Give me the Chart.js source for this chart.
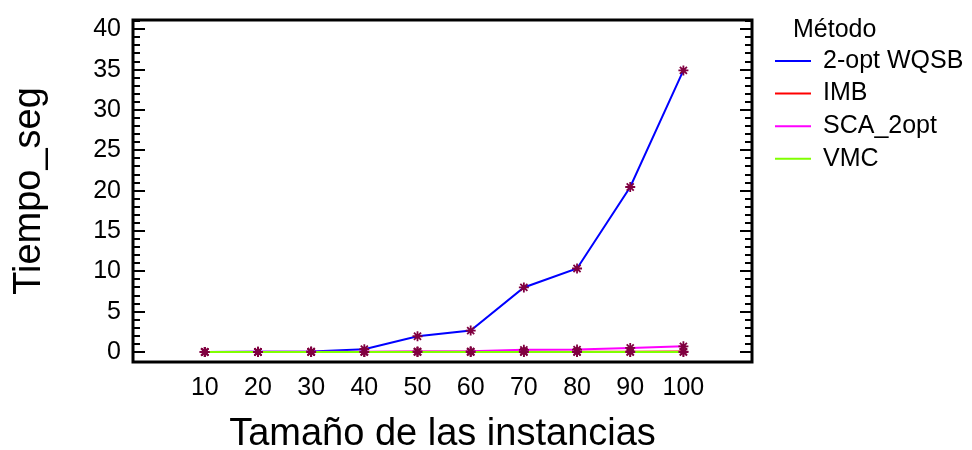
<!DOCTYPE html>
<html>
<head>
<meta charset="utf-8">
<script src="https://cdn.jsdelivr.net/npm/chart.js@4/dist/chart.umd.min.js"></script>
<style>
  html, body { margin: 0; padding: 0; background: #fff; }
  #chart { display: block; }
</style>
</head>
<body>
<canvas id="chart" width="972" height="450"></canvas>
<script>
const sizes = [10, 20, 30, 40, 50, 60, 70, 80, 90, 100];
const yTicks = [0, 5, 10, 15, 20, 25, 30, 35, 40];

const wqsb = [0.0, 0.02, 0.05, 0.35, 1.95, 2.65, 8.0, 10.35, 20.45, 34.9];
const imb = [0.0, 0.0, 0.01, 0.01, 0.02, 0.02, 0.03, 0.03, 0.04, 0.05];
const sca = [0.01, 0.02, 0.03, 0.04, 0.06, 0.08, 0.27, 0.3, 0.5, 0.7];
const vmc = [0.0, 0.0, 0.0, 0.0, 0.0, 0.0, 0.0, 0.0, 0.0, 0.0];

const FONT = "'Liberation Sans', Arial, sans-serif";
const MARKER = "#800040";

function series(label, values, color, order) {
  return {
    label: label,
    data: sizes.map((s, i) => ({ x: s, y: values[i] })),
    borderColor: color,
    backgroundColor: color,
    borderWidth: 2,
    pointStyle: "star",
    pointRadius: 5,
    pointBorderWidth: 1.8,
    pointBorderColor: MARKER,
    pointBackgroundColor: MARKER,
    tension: 0,
    order: order,
  };
}

// frame and inward ticks, like the R plot
const framePlugin = {
  id: "frame",
  afterDraw(chart) {
    const { ctx, chartArea } = chart;
    const y = chart.scales.y;
    ctx.save();
    ctx.strokeStyle = "#000";
    ctx.lineWidth = 2;
    for (let v = 0; v <= 41; v++) {
      const py = Math.round(y.getPixelForValue(v));
      const len = v % 5 === 0 ? 12 : 7;
      ctx.beginPath();
      ctx.moveTo(chartArea.left, py);
      ctx.lineTo(chartArea.left + len, py);
      ctx.moveTo(chartArea.right, py);
      ctx.lineTo(chartArea.right - len, py);
      ctx.stroke();
    }
    ctx.lineWidth = 3;
    ctx.strokeRect(chartArea.left, chartArea.top, chartArea.right - chartArea.left, chartArea.bottom - chartArea.top);
    ctx.restore();
  },
};

// legend with title on the right
const legendPlugin = {
  id: "sideLegend",
  afterDraw(chart) {
    const { ctx } = chart;
    ctx.save();
    ctx.fillStyle = "#000";
    ctx.font = "25px " + FONT;
    ctx.textAlign = "left";
    ctx.textBaseline = "alphabetic";
    ctx.fillText("Método", 793, 37);
    ctx.textBaseline = "middle";
    chart.data.datasets.forEach((ds, i) => {
      const yy = 61 + i * 32.6;
      ctx.strokeStyle = ds.borderColor;
      ctx.lineWidth = 2;
      ctx.beginPath();
      ctx.moveTo(775, yy);
      ctx.lineTo(811, yy);
      ctx.stroke();
      ctx.fillStyle = "#000";
      ctx.fillText(ds.label, 823, yy);
    });
    ctx.restore();
  },
};

new Chart(document.getElementById("chart"), {
  type: "line",
  data: {
    datasets: [
      series("2-opt WQSB", wqsb, "#0000ff", 3),
      series("IMB", imb, "#ff0000", 2),
      series("SCA_2opt", sca, "#ff00ff", 1),
      series("VMC", vmc, "#80ff00", 0),
    ],
  },
  options: {
    responsive: false,
    animation: false,
    devicePixelRatio: 1,
    layout: { padding: { left: 0, right: 220, top: 20, bottom: 0 } },
    plugins: {
      legend: { display: false },
      tooltip: { enabled: false },
    },
    scales: {
      x: {
        type: "linear",
        min: -3.5,
        max: 112.9,
        afterBuildTicks: (scale) => {
          scale.ticks = sizes.map((v) => ({ value: v }));
        },
        afterFit: (scale) => {
          scale.height = 88;
          scale.paddingLeft = 0;
          scale.paddingRight = 0;
        },
        grid: { display: false, drawTicks: false },
        border: { display: false },
        ticks: {
          color: "#000",
          font: { family: FONT, size: 25 },
          padding: 11,
          maxRotation: 0,
          autoSkip: false,
        },
        title: {
          display: true,
          text: "Tamaño de las instancias",
          color: "#000",
          font: { family: FONT, size: 38, lineHeight: 0.8 },
          padding: 0,
        },
      },
      y: {
        type: "linear",
        min: -1.24,
        max: 41.15,
        afterBuildTicks: (scale) => {
          scale.ticks = yTicks.map((v) => ({ value: v }));
        },
        afterFit: (scale) => {
          scale.width = 133;
          scale.paddingTop = 0;
          scale.paddingBottom = 0;
        },
        grid: { display: false, drawTicks: false },
        border: { display: false },
        ticks: {
          color: "#000",
          font: { family: FONT, size: 25 },
          padding: 12,
          autoSkip: false,
        },
        title: {
          display: true,
          text: "Tiempo_seg",
          color: "#000",
          font: { family: FONT, size: 38, lineHeight: 0.8 },
          padding: { top: 14, bottom: 0 },
        },
      },
    },
  },
  plugins: [framePlugin, legendPlugin],
});
</script>
</body>
</html>
